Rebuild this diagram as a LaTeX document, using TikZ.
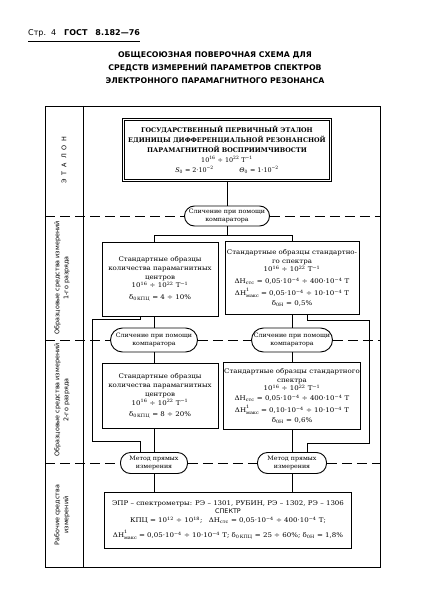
\documentclass[tikz,border=0pt]{standalone}
\usepackage{fontspec}
\setmainfont{DejaVu Serif}
\newfontfamily\gostsans{DejaVu Sans}
\newfontfamily\boxfont[FakeStretch=1.1]{DejaVu Serif}
\newfontfamily\ovalfont[FakeStretch=1.05]{DejaVu Serif}
\newcommand{\pw}[1]{\textsuperscript{#1}}
\newcommand{\supsub}[2]{\rlap{\raisebox{4.3pt}{\fontsize{4.5}{5}\selectfont #1}}%
  \raisebox{-2pt}{\fontsize{4.5}{5}\selectfont #2}}

\tikzset{
  gostframe/.style={line width=0.8pt},
  link/.style={line width=0.8pt},
  sepline/.style={line width=0.6pt, dash pattern=on 10pt off 5pt},
  stdbox/.style={draw, line width=0.9pt, align=center, inner sep=1pt,
    font=\boxfont\fontsize{6.4}{8.8}\selectfont},
  etalonbox/.style={draw, double, double distance=1.8pt, line width=0.6pt,
    align=center, inner sep=1pt, font=\fontsize{6.4}{9.8}\selectfont},
  cmpoval/.style={draw, line width=0.9pt, rounded corners=10pt, align=center,
    inner sep=1pt, font=\ovalfont\fontsize{6}{8}\selectfont},
  levellabel/.style={rotate=90, align=center,
    font=\gostsans\fontsize{6.4}{9}\selectfont},
}

\begin{document}
\begin{tikzpicture}[x=1pt, y=-1pt]
\useasboundingbox (0,0) rectangle (422,607);

% page header and title
\node[anchor=west, inner sep=0pt, font=\gostsans\fontsize{8}{10}\selectfont] (hdr) at (28,33)
  {Стр.\ \ 4\quad\textbf{ГОСТ\quad 8.182—76}};
\draw[line width=0.8pt] ([yshift=-4pt]hdr.south west) -- ([yshift=-4pt]hdr.south east);
\node[align=center, font=\gostsans\bfseries\fontsize{7.8}{13}\selectfont] (title) at (215,68)
  {ОБЩЕСОЮЗНАЯ ПОВЕРОЧНАЯ СХЕМА ДЛЯ\\
   СРЕДСТВ ИЗМЕРЕНИЙ ПАРАМЕТРОВ СПЕКТРОВ\\
   ЭЛЕКТРОННОГО ПАРАМАГНИТНОГО РЕЗОНАНСА};

% outer frame with the column of levels
\draw[gostframe] (45,106) rectangle (380,567);
\draw[gostframe] (83,106) -- (83,567);
\coordinate (frameL) at (45,0);
\coordinate (frameR) at (380,0);
\coordinate (colL) at (154,0);
\coordinate (bypL) at (140,0);
\coordinate (bypR) at (307,0);

% levels
\node[levellabel] (lvl0) at (64,160) {Э\hspace{4pt}Т\hspace{4pt}А\hspace{4pt}Л\hspace{4pt}О\hspace{4pt}Н};
\node[levellabel] (lvl1) at (62,278) {Образцовые средства измерений\\1-го разряда};
\node[levellabel] (lvl2) at (62,400) {Образцовые средства измерений\\2-го разряда};
\node[levellabel] (lvl3) at (62,515) {Рабочие средства\\измерений};

% primary standard
\node[etalonbox, minimum width=207, minimum height=61] (etalon) at (227,150)
  {\textbf{ГОСУДАРСТВЕННЫЙ ПЕРВИЧНЫЙ ЭТАЛОН}\\
   \textbf{ЕДИНИЦЫ ДИФФЕРЕНЦИАЛЬНОЙ РЕЗОНАНСНОЙ}\\
   \textbf{ПАРАМАГНИТНОЙ ВОСПРИИМЧИВОСТИ}\\
   10\pw{16} ÷ 10\pw{22} Т\pw{−1}\\
   \textit{S}\textsubscript{0} = 2·10\pw{−2}\hspace{4em}\textit{Θ}\textsubscript{0} = 1·10\pw{−2}};

% comparators and standards of rank 1
\node[cmpoval, minimum width=85, minimum height=20] (cmp1) at (227,216)
  {Сличение при помощи\\компаратора};
\node[stdbox, minimum width=116, minimum height=74] (box1l) at (160,279)
  {Стандартные образцы\\количества парамагнитных\\центров\\
   10\pw{16} ÷ 10\pw{22} Т\pw{−1}\\[3pt]
   δ\textsubscript{0\,КПЦ} = 4 ÷ 10\%};
\node[stdbox, minimum width=134, minimum height=73] (box1r) at (292,278)
  {Стандартные образцы стандартно-\\го спектра\\
   10\pw{16} ÷ 10\pw{22} Т\pw{−1}\\[3pt]
   ΔH\textsubscript{стс} = 0,05·10\pw{−4} ÷ 400·10\pw{−4} Т\\[3pt]
   ΔH\supsub{1}{макс} = 0,05·10\pw{−4} ÷ 10·10\pw{−4} Т\\[1pt]
   δ\textsubscript{0H} = 0,5\%};

% comparators and standards of rank 2
\node[cmpoval, minimum width=87, minimum height=24, rounded corners=12pt] (cmp2l) at (154,340)
  {Сличение при помощи\\компаратора};
\node[cmpoval, minimum width=81, minimum height=24, rounded corners=12pt] (cmp2r) at (292,340)
  {Сличение при помощи\\компаратора};
\node[stdbox, minimum width=116, minimum height=65] (box2l) at (160,396)
  {Стандартные образцы\\количества парамагнитных\\центров\\
   10\pw{16} ÷ 10\pw{22} Т\pw{−1}\\[2pt]
   δ\textsubscript{0\,КПЦ} = 8 ÷ 20\%};
\node[stdbox, minimum width=135, minimum height=67] (box2r) at (292,396)
  {Стандартные образцы стандартного\\спектра\\
   10\pw{16} ÷ 10\pw{22} Т\pw{−1}\\[1pt]
   ΔH\textsubscript{стс} = 0,05·10\pw{−4} ÷ 400·10\pw{−4} Т\\[3pt]
   ΔH\supsub{1}{макс} = 0,10·10\pw{−4} ÷ 10·10\pw{−4} Т\\[1pt]
   δ\textsubscript{0H} = 0,6\%};

% direct measurement and working instruments
\node[cmpoval, minimum width=67, minimum height=21] (methl) at (154,463)
  {Метод прямых\\измерения};
\node[cmpoval, minimum width=69, minimum height=21] (methr) at (292,463)
  {Метод прямых\\измерения};
\node[stdbox, minimum width=247, minimum height=56] (work) at (228,520)
  {ЭПР – спектрометры: РЭ – 1301, РУБИН, РЭ – 1302, РЭ – 1306\\
   {\gostsans СПЕКТР}\\
   КПЦ = 10\pw{12} ÷ 10\pw{18};\quad ΔH\textsubscript{стс} = 0,05·10\pw{−4} ÷ 400·10\pw{−4} Т;\\[6pt]
   ΔH\supsub{1}{макс} = 0,05·10\pw{−4} ÷ 10·10\pw{−4} Т;
   δ\textsubscript{0\,КПЦ} = 25 ÷ 60\%; δ\textsubscript{0H} = 1,8\%};

% connections
\draw[link] (etalon.south) -- (cmp1.north);
\draw[link] (cmp1.south) -- ++(0,9) coordinate (fork1);
\draw[link] (box1l.north -| colL) |- (fork1) -| (box1r.north);
\draw[link] (box1l.south -| colL) -- (cmp2l.north);
\draw[link] (box1r.south) -- (cmp2r.north);
\draw[link] (cmp2l.south) -- (box2l.north -| colL);
\draw[link] (cmp2r.south) -- (box2r.north);
\draw[link] (box2l.south -| colL) -- (methl.north);
\draw[link] (box2r.south) -- (methr.north);
\draw[link] (methl.south) -- (work.north -| colL);
\draw[link] (methr.south) -- (work.north -| methr.south);

% rank 1 standards used directly
\draw[link] (box1l.south -| bypL) -- ++(0,3) -| (92,441) -| (methl.north -| bypL);
\draw[link] (box1r.south -| bypR) -- ++(0,5) -| (369,443) -| (methr.north -| bypR);

% level borders
\draw[sepline] (cmp1.west -| frameL) -- (cmp1.west);
\draw[sepline] (cmp1.east) -- (cmp1.east -| frameR);
\draw[sepline] (cmp2l.west -| frameL) -- (cmp2l.west);
\draw[sepline] (cmp2l.east) -- (cmp2r.west);
\draw[sepline] (cmp2r.east) -- (cmp2r.east -| frameR);
\draw[sepline] (methl.west -| frameL) -- (methl.west);
\draw[sepline] (methl.east) -- (methr.west);
\draw[sepline] (methr.east) -- (methr.east -| frameR);

\end{tikzpicture}
\end{document}
